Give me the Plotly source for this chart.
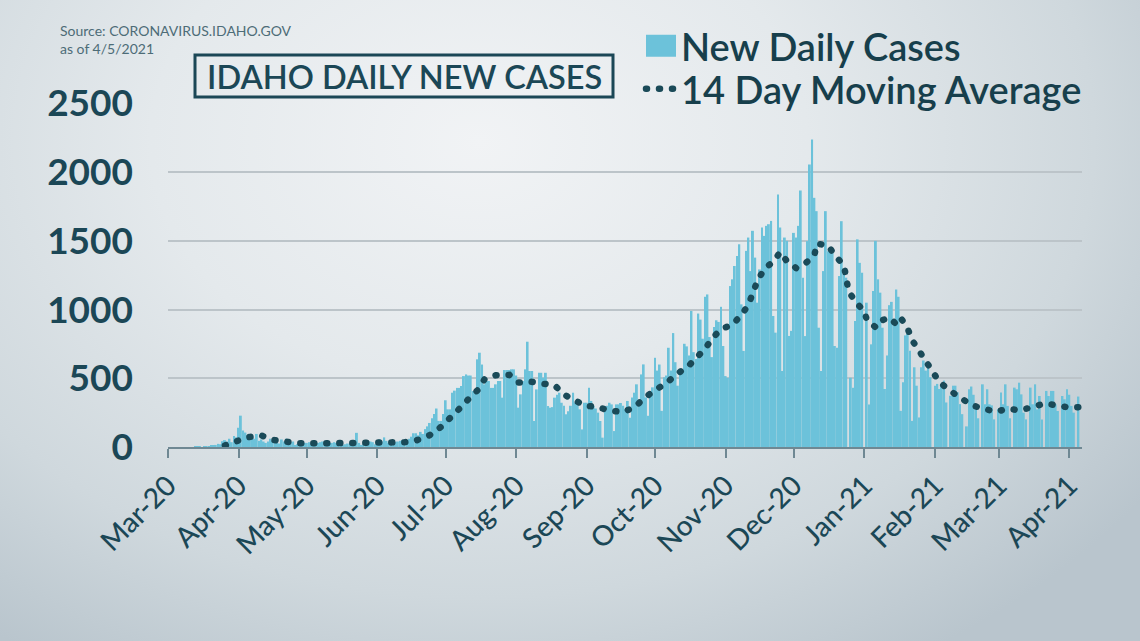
import pandas as pd
import plotly.graph_objects as go

# ---------------- data ----------------
# daily new cases, one list per month (first list starts 2020-03-13)
cases_2020_03 = [1, 1, 3, 0, 3, 2, 6, 8, 8, 15, 23, 20, 42, 50, 40, 60, 35, 80, 70]
cases_2020_04 = [140, 228, 120, 105, 85, 70, 85, 60, 95, 45, 55, 40, 30, 40, 60,
                 45, 35, 30, 25, 55, 40, 60, 45, 35, 40, 15, 20, 25, 35, 30]
cases_2020_05 = [30, 35, 20, 15, 25, 30, 35, 40, 25, 15, 20, 30, 35, 30, 40, 25,
                 15, 20, 25, 30, 35, 40, 103, 30, 15, 20, 30, 45, 40, 35, 20]
cases_2020_06 = [25, 55, 40, 70, 45, 30, 15, 25, 35, 40, 45, 50, 40, 25, 60,
                 75, 100, 100, 85, 110, 95, 130, 150, 175, 210, 240, 280, 190, 190, 240]
cases_2020_07 = [340, 274, 274, 395, 410, 430, 430, 444, 516, 528, 520, 520, 407, 407, 638,
                 686, 600, 456, 480, 480, 430, 430, 456, 480, 480, 359, 560, 560, 560, 565, 565]
cases_2020_08 = [520, 286, 383, 480, 565, 766, 553, 553, 189, 419, 540, 540, 504, 540, 298,
                 286, 290, 359, 380, 395, 322, 300, 238, 260, 300, 395, 322, 310, 274, 128, 322]
cases_2020_09 = [322, 431, 335, 298, 280, 250, 189, 68, 298, 300, 322, 310, 116, 310, 310,
                 320, 300, 274, 335, 213, 360, 395, 456, 310, 528, 601, 361, 227, 398, 434]
cases_2020_10 = [649, 556, 600, 263, 507, 520, 722, 556, 829, 617, 446, 532, 540, 751, 732,
                 666, 990, 690, 641, 971, 927, 788, 1093, 1110, 800, 654, 873, 922, 910, 1020, 735]
cases_2020_11 = [516, 504, 1171, 1220, 1317, 1390, 1475, 1038, 699, 1427, 1524, 1280, 1573, 1378, 1050,
                 1292, 1597, 1536, 1609, 1621, 1645, 953, 832, 1838, 1597, 553, 1524, 1500, 808, 845]
cases_2020_12 = [1558, 1524, 1609, 1867, 1232, 807, 1498, 2056, 2238, 1813, 1716, 868, 553, 1280, 1716,
                 1425, 1450, 1413, 735, 722, 1244, 1643, 1280, 1232, 0, 504, 431, 917, 1511, 1340, 1268]
cases_2021_01 = [0, 1050, 310, 747, 1135, 1500, 1220, 1123, 868, 422, 666, 1032, 1056, 910, 1146,
                 1093, 263, 471, 812, 824, 700, 190, 580, 446, 215, 580, 629, 556, 593, 507, 0]
cases_2021_02 = [446, 459, 422, 446, 483, 324, 0, 373, 446, 446, 398, 312, 239, 0,
                 150, 420, 440, 380, 291, 209, 0, 456, 311, 420, 311, 303, 201, 0]
cases_2021_03 = [274, 396, 311, 456, 299, 209, 0, 432, 420, 468, 383, 250, 201, 0, 432, 311,
                 456, 274, 371, 201, 0, 408, 371, 408, 408, 311, 262, 0, 371, 347, 420]
cases_2021_04 = [380, 299, 250, 0, 367]

month_starts = ["2020-03-13", "2020-04-01", "2020-05-01", "2020-06-01", "2020-07-01",
                "2020-08-01", "2020-09-01", "2020-10-01", "2020-11-01", "2020-12-01",
                "2021-01-01", "2021-02-01", "2021-03-01", "2021-04-01"]
month_values = [cases_2020_03, cases_2020_04, cases_2020_05, cases_2020_06, cases_2020_07,
                cases_2020_08, cases_2020_09, cases_2020_10, cases_2020_11, cases_2020_12,
                cases_2021_01, cases_2021_02, cases_2021_03, cases_2021_04]

# 14 day moving average at these dates
ma_dates = ["2020-03-26", "2020-03-31", "2020-04-05", "2020-04-11", "2020-04-16", "2020-04-22",
            "2020-04-28", "2020-05-10", "2020-05-22", "2020-06-03", "2020-06-13", "2020-06-18",
            "2020-06-24", "2020-06-29", "2020-07-03", "2020-07-07", "2020-07-11", "2020-07-15",
            "2020-07-18", "2020-07-23", "2020-07-29", "2020-08-02", "2020-08-07", "2020-08-13",
            "2020-08-18", "2020-08-22", "2020-08-27", "2020-08-31", "2020-09-06", "2020-09-11",
            "2020-09-17", "2020-09-22", "2020-09-26", "2020-10-01", "2020-10-06", "2020-10-10",
            "2020-10-15", "2020-10-19", "2020-10-23", "2020-10-26", "2020-10-30", "2020-11-04",
            "2020-11-08", "2020-11-11", "2020-11-13", "2020-11-15", "2020-11-18", "2020-11-22",
            "2020-11-25", "2020-11-28", "2020-12-02", "2020-12-06", "2020-12-10", "2020-12-11",
            "2020-12-16", "2020-12-19", "2020-12-23", "2020-12-24", "2020-12-25", "2020-12-28",
            "2021-01-01", "2021-01-02", "2021-01-06", "2021-01-08", "2021-01-12", "2021-01-15",
            "2021-01-17", "2021-01-20", "2021-01-22", "2021-01-25", "2021-01-28", "2021-01-31",
            "2021-02-03", "2021-02-08", "2021-02-13", "2021-02-17", "2021-02-22", "2021-02-28",
            "2021-03-05", "2021-03-10", "2021-03-15", "2021-03-21", "2021-03-27", "2021-04-01",
            "2021-04-05"]
ma_values = [11, 35, 71, 84, 52, 38,
             28, 27, 28, 30, 35, 47,
             86, 147, 207, 278, 348, 413,
             491, 522, 525, 469, 476, 464,
             447, 382, 338, 302, 290, 265,
             254, 290, 352, 415, 463, 527,
             578, 646, 715, 788, 858, 890,
             962, 1035, 1118, 1210, 1295, 1350,
             1418, 1350, 1302, 1336, 1394, 1479,
             1467, 1394, 1321, 1229, 1135, 1057,
             987, 926, 870, 918, 941, 893,
             939, 861, 776, 700, 620, 529,
             471, 405, 349, 305, 279, 257,
             279, 267, 286, 316, 303, 286,
             290]

y_ticks = [0, 500, 1000, 1500, 2000, 2500]

# ---------------- build ----------------
dates, cases = [], []
for start, vals in zip(month_starts, month_values):
    dates.extend(pd.date_range(start, periods=len(vals), freq="D"))
    cases.extend(vals)

W, H = 1140, 641
ML, MR, MT, MB = 168, 58, 103, 194
PW, PH = W - ML - MR, H - MT - MB


def px(xp):
    return (xp - ML) / PW


def py(yp):
    return (MT + PH - yp) / PH


DARK = "#1b4756"
BAR = "#6cc2da"
LEG_FONT = dict(family="Lato", size=38, color="#173f4c", weight=600)

fig = go.Figure()
fig.add_trace(go.Bar(x=dates, y=cases, name="New Daily Cases", legend="legend",
                     marker=dict(color=BAR, line=dict(width=0))))
fig.add_trace(go.Scatter(x=ma_dates, y=ma_values, name="14 Day Moving Average", legend="legend2",
                         mode="lines", line=dict(color="#1a4a58", width=6.5, dash="1px,12px")))

fig.update_layout(
    width=W, height=H,
    margin=dict(l=ML, r=MR, t=MT, b=MB, autoexpand=False),
    paper_bgcolor="rgba(0,0,0,0)", plot_bgcolor="rgba(0,0,0,0)",
    bargap=0.15,
    font=dict(family="Lato", color=DARK),
    showlegend=True,
    legend=dict(xref="container", yref="container", x=641 / W, y=1 - 46 / H,
                xanchor="left", yanchor="middle", bgcolor="rgba(0,0,0,0)",
                font=LEG_FONT, itemwidth=30),
    legend2=dict(xref="container", yref="container", x=641 / W, y=1 - 89 / H,
                 xanchor="left", yanchor="middle", bgcolor="rgba(0,0,0,0)",
                 font=LEG_FONT, itemwidth=30),
    xaxis=dict(type="date", range=["2020-03-01", "2021-04-06 14:00"],
               tick0="2020-03-01", dtick="M1", tickformat="%b-%y", tickangle=-45,
               tickfont=dict(family="Lato", size=28, color=DARK, weight=500),
               showgrid=False, zeroline=False, showline=True, linecolor="#6f8893", linewidth=2,
               ticks="outside", ticklen=9, tickwidth=1.5, tickcolor="#6f8893", automargin=False),
    yaxis=dict(range=[0, 2503], tickvals=y_ticks, ticktext=[str(v) for v in y_ticks],
               tickfont=dict(family="Lato", size=37, color=DARK, weight=700),
               showgrid=True, gridcolor="#bcc4c9", gridwidth=1.5, zeroline=False,
               showline=False, ticks="", ticklabelstandoff=34, automargin=False),
)

# title box and title
fig.add_shape(type="rect", xref="paper", yref="paper",
              x0=px(195), x1=px(613), y0=py(97), y1=py(55),
              line=dict(color=DARK, width=3), fillcolor="rgba(0,0,0,0)", layer="above")
fig.add_annotation(text="IDAHO DAILY NEW CASES", xref="paper", yref="paper",
                   x=px(404), y=py(76), xanchor="center", yanchor="middle", showarrow=False,
                   font=dict(family="Lato", size=32.5, color=DARK, weight=600))
# source note
fig.add_annotation(text="Source: CORONAVIRUS.IDAHO.GOV<br>as of 4/5/2021", xref="paper", yref="paper",
                   x=px(58), y=py(20), xanchor="left", yanchor="top", align="left", showarrow=False,
                   font=dict(family="Lato", size=14, color="#4d6c77"))

post = """
var s=document.createElement('style');
s.textContent='.js-line{stroke-linecap:round !important;} html,body{margin:0;padding:0;} body{background:radial-gradient(ellipse 72% 95% at 42% 22%, #f1f3f5 0%, #e4e9ec 40%, #cfd8dd 75%, #b9c5cd 100%);}';
document.head.appendChild(s);
document.querySelectorAll('.legendpoints path').forEach(function(p){p.setAttribute('d','M15,11H-15V-11H15Z');});
"""

fig.write_html("out.html", post_script=post, config={"displayModeBar": False})
